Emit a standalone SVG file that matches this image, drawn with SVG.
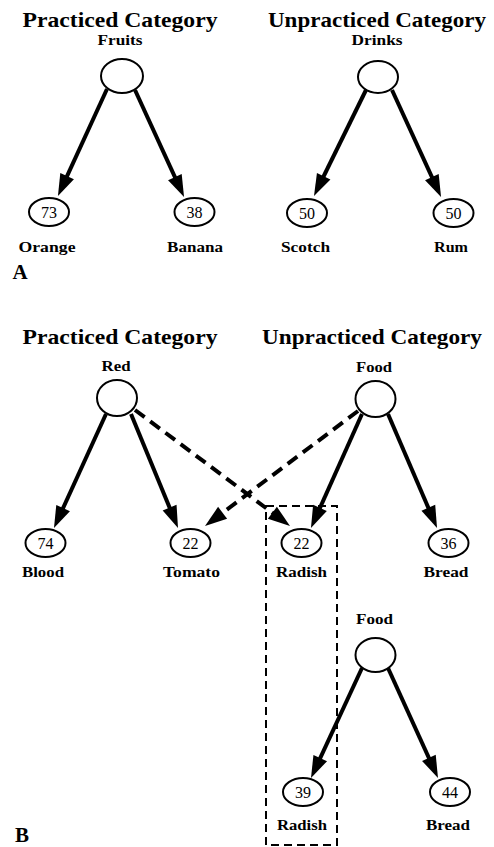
<svg xmlns="http://www.w3.org/2000/svg" width="494" height="847" viewBox="0 0 494 847">
<style>
.t{font-family:"Liberation Serif","Times New Roman",serif;font-weight:bold;fill:#000;text-anchor:middle}
.title{font-size:21px}
.lab{font-size:15px}
.num{font-family:"Liberation Serif","Times New Roman",serif;font-size:16px;fill:#000;text-anchor:middle}
.nd{fill:#fff;stroke:#000;stroke-width:2}
.e{stroke:#000;stroke-width:4;fill:none;marker-end:url(#ah)}
.d{stroke-dasharray:12 7}
.box{fill:none;stroke:#000;stroke-width:2;stroke-dasharray:8 5}
</style>
<defs>
<marker id="ah" markerUnits="userSpaceOnUse" markerWidth="22" markerHeight="15" refX="7" refY="7.5" orient="auto" overflow="visible">
<path d="M0,0 L22,7.5 L0,15 z" fill="#000"/>
</marker>
</defs>
<rect width="494" height="847" fill="#fff"/>

<text class="t title" x="120" y="27" textLength="195" lengthAdjust="spacingAndGlyphs">Practiced Category</text>
<text class="t title" x="377" y="27" textLength="218" lengthAdjust="spacingAndGlyphs">Unpracticed Category</text>
<text class="t title" x="20" y="279" font-size="20">A</text>
<text class="t title" x="120" y="344" textLength="195" lengthAdjust="spacingAndGlyphs">Practiced Category</text>
<text class="t title" x="372" y="344" textLength="220" lengthAdjust="spacingAndGlyphs">Unpracticed Category</text>
<text class="t title" x="22" y="842" font-size="20">B</text>

<rect class="box" x="266" y="506" width="71" height="339"/>

<g id="connectors">
<line class="e" x1="107" y1="89" x2="64.2" y2="182.4"/>
<line class="e" x1="135" y1="90" x2="177.8" y2="183.4"/>
<line class="e" x1="366" y1="90" x2="320.6" y2="182.5"/>
<line class="e" x1="392" y1="90" x2="434.8" y2="183.4"/>
<line class="e" x1="106" y1="414" x2="60.2" y2="514.4"/>
<line class="e" x1="131" y1="414" x2="172.3" y2="514.1"/>
<line class="e d" x1="135" y1="410" x2="278" y2="517"/>
<line class="e d" x1="358" y1="411" x2="217" y2="517"/>
<line class="e" x1="362" y1="414" x2="317.1" y2="514.3"/>
<line class="e" x1="388" y1="414" x2="431.1" y2="514.2"/>
<line class="e" x1="362" y1="668" x2="317.3" y2="764.4"/>
<line class="e" x1="388" y1="668" x2="431.8" y2="764.3"/>
</g>

<g id="fruits"><ellipse class="nd" cx="122" cy="76" rx="21" ry="17"/><text class="t lab" x="120" y="45" textLength="45" lengthAdjust="spacingAndGlyphs">Fruits</text></g>
<g id="orange"><ellipse class="nd" cx="49" cy="212" rx="20" ry="14"/><text class="num" x="49" y="218">73</text><text class="t lab" x="47" y="252" textLength="57" lengthAdjust="spacingAndGlyphs">Orange</text></g>
<g id="banana"><ellipse class="nd" cx="194.5" cy="212" rx="20" ry="14"/><text class="num" x="194.5" y="218">38</text><text class="t lab" x="195" y="252" textLength="56" lengthAdjust="spacingAndGlyphs">Banana</text></g>

<g id="drinks"><ellipse class="nd" cx="378" cy="77" rx="20" ry="16"/><text class="t lab" x="377" y="45" textLength="51" lengthAdjust="spacingAndGlyphs">Drinks</text></g>
<g id="scotch"><ellipse class="nd" cx="307" cy="213" rx="20" ry="14"/><text class="num" x="307" y="219">50</text><text class="t lab" x="305.5" y="252" textLength="49" lengthAdjust="spacingAndGlyphs">Scotch</text></g>
<g id="rum"><ellipse class="nd" cx="453.5" cy="213" rx="20" ry="14"/><text class="num" x="453.5" y="219">50</text><text class="t lab" x="451" y="252" textLength="34" lengthAdjust="spacingAndGlyphs">Rum</text></g>

<g id="red"><ellipse class="nd" cx="117" cy="398" rx="20" ry="18"/><text class="t lab" x="116" y="371" textLength="29" lengthAdjust="spacingAndGlyphs">Red</text></g>
<g id="blood"><ellipse class="nd" cx="45.5" cy="543" rx="20" ry="14"/><text class="num" x="45.5" y="549">74</text><text class="t lab" x="43" y="577" textLength="42" lengthAdjust="spacingAndGlyphs">Blood</text></g>
<g id="tomato"><ellipse class="nd" cx="190.5" cy="543" rx="20" ry="14"/><text class="num" x="190.5" y="549">22</text><text class="t lab" x="191.5" y="577" textLength="57" lengthAdjust="spacingAndGlyphs">Tomato</text></g>

<g id="food1"><ellipse class="nd" cx="375.5" cy="399" rx="20" ry="18"/><text class="t lab" x="374" y="372" textLength="36" lengthAdjust="spacingAndGlyphs">Food</text></g>
<g id="radish1"><ellipse class="nd" cx="301.5" cy="543" rx="20" ry="14"/><text class="num" x="301.5" y="549">22</text><text class="t lab" x="301.5" y="577" textLength="51" lengthAdjust="spacingAndGlyphs">Radish</text></g>
<g id="bread1"><ellipse class="nd" cx="448.5" cy="543" rx="20" ry="14"/><text class="num" x="448.5" y="549">36</text><text class="t lab" x="446" y="577" textLength="45" lengthAdjust="spacingAndGlyphs">Bread</text></g>

<g id="food2"><ellipse class="nd" cx="375.5" cy="655" rx="20" ry="17"/><text class="t lab" x="374.5" y="624" textLength="37" lengthAdjust="spacingAndGlyphs">Food</text></g>
<g id="radish2"><ellipse class="nd" cx="303" cy="792" rx="20" ry="14"/><text class="num" x="303" y="798">39</text><text class="t lab" x="302" y="830" textLength="50" lengthAdjust="spacingAndGlyphs">Radish</text></g>
<g id="bread2"><ellipse class="nd" cx="450" cy="792" rx="20" ry="14"/><text class="num" x="450" y="798">44</text><text class="t lab" x="448" y="830" textLength="44" lengthAdjust="spacingAndGlyphs">Bread</text></g>
</svg>
